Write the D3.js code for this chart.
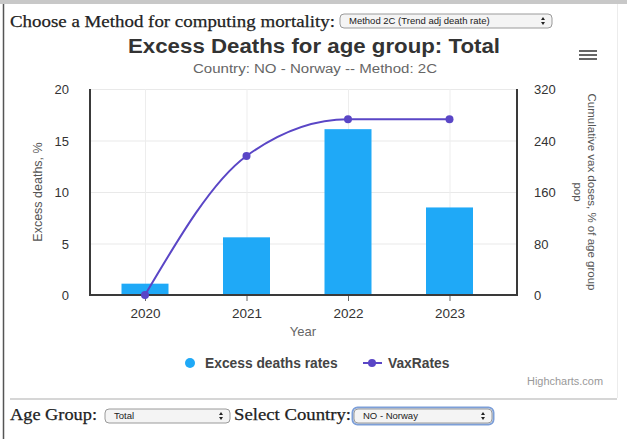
<!DOCTYPE html>
<html>
<head>
<meta charset="utf-8">
<script src="https://cdn.jsdelivr.net/npm/d3@7"></script>
<style>
  html, body { margin: 0; padding: 0; background: #fff; }
  svg { display: block; }
</style>
</head>
<body>
<svg id="chart" width="627" height="439"></svg>
<script>
// ---- data ----
const years = ["2020", "2021", "2022", "2023"];
const excessDeaths = [1.1, 5.6, 16.1, 8.5];      // % excess deaths
const vaxRates = [0, 216, 273, 273];              // cumulative vax doses, % of age group pop
const leftTicks = [0, 5, 10, 15, 20];
const rightTicks = [0, 80, 160, 240, 320];

const svg = d3.select("#chart");
const sans = "'Liberation Sans', Arial, Helvetica, sans-serif";
const serif = "'Liberation Serif', 'Times New Roman', serif";

// ---- page frame ----
svg.append("rect").attr("x", 0).attr("y", 0).attr("width", 627).attr("height", 4).attr("fill", "#c8c8c8");
svg.append("line").attr("x1", 3.5).attr("x2", 3.5).attr("y1", 4).attr("y2", 439)
  .attr("stroke", "#555").attr("stroke-width", 1.5);
svg.append("line").attr("x1", 617.5).attr("x2", 617.5).attr("y1", 4).attr("y2", 398)
  .attr("stroke", "#ececec").attr("stroke-width", 1);
svg.append("line").attr("x1", 10).attr("x2", 617).attr("y1", 399).attr("y2", 399)
  .attr("stroke", "#d6d6d6").attr("stroke-width", 2);

// select-box widget
function selectBox(x, y, w, h, label, focused) {
  const g = svg.append("g");
  if (focused) {
    g.append("rect").attr("x", x - 1.5).attr("y", y - 1.5).attr("width", w + 3).attr("height", h + 3)
      .attr("rx", 5).attr("fill", "none").attr("stroke", "#7d9fd8").attr("stroke-width", 2);
  }
  g.append("rect").attr("x", x).attr("y", y).attr("width", w).attr("height", h)
    .attr("rx", 4).attr("fill", "#f4f4f4").attr("stroke", "#9a9a9a").attr("stroke-width", 1);
  g.append("text").attr("x", x + 9).attr("y", y + h / 2 + 3.3)
    .attr("font-family", sans).attr("font-size", 9.5).attr("fill", "#222").text(label);
  const ax = x + w - 9, ay = y + h / 2;
  g.append("path").attr("d", `M${ax - 2},${ay - 1} L${ax + 2},${ay - 1} L${ax},${ay - 4} Z`).attr("fill", "#222");
  g.append("path").attr("d", `M${ax - 2},${ay + 1} L${ax + 2},${ay + 1} L${ax},${ay + 4} Z`).attr("fill", "#222");
}

function serifLabel(x, y, txt, len) {
  svg.append("text").attr("x", x).attr("y", y).attr("font-family", serif).attr("font-size", 17.5)
    .attr("fill", "#222").attr("stroke", "#222").attr("stroke-width", 0.25)
    .attr("textLength", len).attr("lengthAdjust", "spacingAndGlyphs").text(txt);
}

serifLabel(10, 27, "Choose a Method for computing mortality:", 325);
selectBox(340, 14, 212, 14, "Method 2C (Trend adj death rate)", false);

serifLabel(10, 420, "Age Group:", 87);
selectBox(105, 409, 125, 14, "Total", false);
serifLabel(234, 420, "Select Country:", 117);
selectBox(354, 409, 138, 14, "NO - Norway", true);

// ---- chart titles ----
svg.append("text").attr("x", 314).attr("y", 53).attr("text-anchor", "middle")
  .attr("font-family", sans).attr("font-weight", "bold").attr("font-size", 19.5).attr("fill", "#333")
  .attr("textLength", 372).attr("lengthAdjust", "spacingAndGlyphs")
  .text("Excess Deaths for age group: Total");
svg.append("text").attr("x", 315).attr("y", 73).attr("text-anchor", "middle")
  .attr("font-family", sans).attr("font-size", 12.5).attr("fill", "#666")
  .attr("textLength", 244).attr("lengthAdjust", "spacingAndGlyphs")
  .text("Country: NO - Norway -- Method: 2C");

// context menu icon
[0, 4, 8].forEach(d => {
  svg.append("rect").attr("x", 579).attr("y", 50 + d).attr("width", 18).attr("height", 2)
    .attr("fill", "#666");
});

// ---- scales ----
const plot = { left: 90, right: 517, top: 89, bottom: 295 };
const x = d3.scalePoint().domain(years).range([145, 449.5]);
const yL = d3.scaleLinear().domain([0, 20]).range([plot.bottom, plot.top]);
const yR = d3.scaleLinear().domain([0, 320]).range([plot.bottom, plot.top]);

// gridlines
const grid = svg.append("g");
grid.selectAll("line.h").data(leftTicks.slice(1)).join("line")
  .attr("x1", plot.left).attr("x2", plot.right)
  .attr("y1", d => yL(d) + 0.5).attr("y2", d => yL(d) + 0.5)
  .attr("stroke", "#e9e9e9").attr("stroke-width", 1);
grid.selectAll("line.v").data(years).join("line")
  .attr("x1", d => x(d) + 0.5).attr("x2", d => x(d) + 0.5)
  .attr("y1", plot.top).attr("y2", plot.bottom)
  .attr("stroke", "#ededed").attr("stroke-width", 1);

// bars
const barW = 47;
svg.append("g").selectAll("rect").data(years).join("rect")
  .attr("x", d => x(d) - barW / 2)
  .attr("y", (d, i) => yL(excessDeaths[i]))
  .attr("width", barW)
  .attr("height", (d, i) => yL(0) - yL(excessDeaths[i]))
  .attr("fill", "#1fa9f7");

// axes
const axisColor = "#3a3a3a";
const bottomAxis = svg.append("g").attr("transform", `translate(0,${plot.bottom})`)
  .call(d3.axisBottom(x).tickSize(6).tickPadding(7));
bottomAxis.select(".domain").remove();
bottomAxis.selectAll(".tick line").attr("stroke", "#666");
bottomAxis.selectAll(".tick text").attr("font-family", sans).attr("font-size", 13.5).attr("fill", "#333");

const leftAxis = svg.append("g").attr("transform", `translate(${plot.left - 21},0)`)
  .call(d3.axisLeft(yL).tickValues(leftTicks).tickSize(0).tickPadding(0));
leftAxis.select(".domain").remove();
leftAxis.selectAll(".tick text").attr("text-anchor", "end").attr("dy", "0.35em")
  .attr("font-family", sans).attr("font-size", 13).attr("fill", "#333");

const rightAxis = svg.append("g").attr("transform", `translate(${plot.right + 17},0)`)
  .call(d3.axisRight(yR).tickValues(rightTicks).tickSize(0).tickPadding(0));
rightAxis.select(".domain").remove();
rightAxis.selectAll(".tick text").attr("dy", "0.35em")
  .attr("font-family", sans).attr("font-size", 13).attr("fill", "#333");

// axis lines
svg.append("path")
  .attr("d", `M${plot.left},${plot.top} V${plot.bottom} H${plot.right} V${plot.top}`)
  .attr("fill", "none").attr("stroke", axisColor).attr("stroke-width", 2);

// axis titles
svg.append("text").attr("transform", `translate(42,${(plot.top + plot.bottom) / 2}) rotate(-90)`)
  .attr("text-anchor", "middle").attr("font-family", sans).attr("font-size", 12.5).attr("fill", "#555")
  .text("Excess deaths, %");
const rt = svg.append("text").attr("transform", `translate(588,${(plot.top + plot.bottom) / 2}) rotate(90)`)
  .attr("text-anchor", "middle").attr("font-family", sans).attr("font-size", 11.5).attr("fill", "#555");
rt.append("tspan").attr("x", 0).attr("dy", 0).text("Cumulative vax doses, % of age group");
rt.append("tspan").attr("x", 0).attr("dy", 14).text("pop");
svg.append("text").attr("x", 303).attr("y", 336).attr("text-anchor", "middle")
  .attr("font-family", sans).attr("font-size", 13).attr("fill", "#666").text("Year");

// vax line
const lineColor = "#5a46c6";
const line = d3.line().x(d => x(d[0])).y(d => yR(d[1])).curve(d3.curveMonotoneX);
const pts = years.map((y, i) => [y, vaxRates[i]]);
svg.append("path").datum(pts).attr("d", line)
  .attr("fill", "none").attr("stroke", lineColor).attr("stroke-width", 2);
svg.append("g").selectAll("circle").data(pts).join("circle")
  .attr("cx", d => x(d[0])).attr("cy", d => yR(d[1])).attr("r", 4).attr("fill", lineColor);

// legend
const lg = svg.append("g");
lg.append("circle").attr("cx", 190).attr("cy", 363).attr("r", 5).attr("fill", "#1fa9f7");
lg.append("text").attr("x", 205).attr("y", 368).attr("font-family", sans).attr("font-size", 13.8)
  .attr("font-weight", "bold").attr("fill", "#444").text("Excess deaths rates");
lg.append("line").attr("x1", 363).attr("x2", 382).attr("y1", 363).attr("y2", 363)
  .attr("stroke", lineColor).attr("stroke-width", 2);
lg.append("circle").attr("cx", 372).attr("cy", 363).attr("r", 4).attr("fill", lineColor);
lg.append("text").attr("x", 388).attr("y", 368).attr("font-family", sans).attr("font-size", 13.8)
  .attr("font-weight", "bold").attr("fill", "#444").text("VaxRates");

// credits
svg.append("text").attr("x", 603).attr("y", 385).attr("text-anchor", "end")
  .attr("font-family", sans).attr("font-size", 10).attr("fill", "#999")
  .attr("textLength", 76).attr("lengthAdjust", "spacingAndGlyphs").text("Highcharts.com");
</script>
</body>
</html>
